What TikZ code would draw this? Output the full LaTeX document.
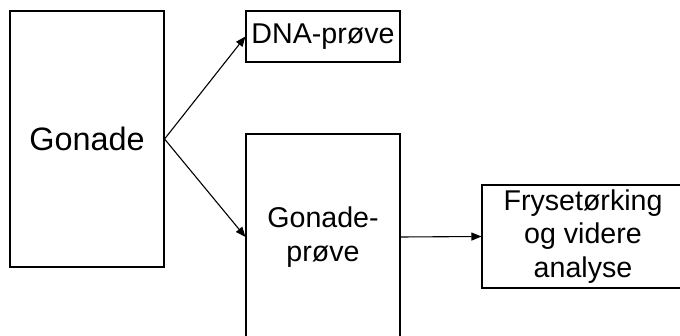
\documentclass[tikz,border=0pt]{standalone}
\usepackage{fontspec}
\setmainfont{Liberation Sans}
\usetikzlibrary{arrows.meta}

\begin{document}
\begin{tikzpicture}[x=1pt, y=-1pt,
    boks/.style={draw, line width=1.1pt, inner sep=0pt, align=center,
      font=\fontsize{28.6}{33.5}\selectfont},
    pil/.style={-{Triangle[length=10pt,width=8pt]}, line width=1.1pt}]

  % Ramme
  \clip (0,0) rectangle (680,336);

  % Bokser
  \node[boks, minimum width=154pt, minimum height=256pt,
        font=\fontsize{32.4}{37}\selectfont] (gonade) at (87,139) {Gonade};
  \node[boks, minimum width=154pt, minimum height=51pt] (dna) at (323,36.5) {DNA-prøve};
  \node[boks, minimum width=154pt, minimum height=206pt] (gprove) at (323,237) {Gonade-\\prøve};
  \node[boks, minimum width=202pt, minimum height=103pt] (frys) at (583,236.5)
        {Frysetørking\\og videre\\analyse};

  % Piler
  \draw[pil] (gonade.east) -- (dna.west);
  \draw[pil] (gonade.east) -- (gprove.west);
  \draw[pil] (gprove.east) -- (frys.west);

\end{tikzpicture}
\end{document}
